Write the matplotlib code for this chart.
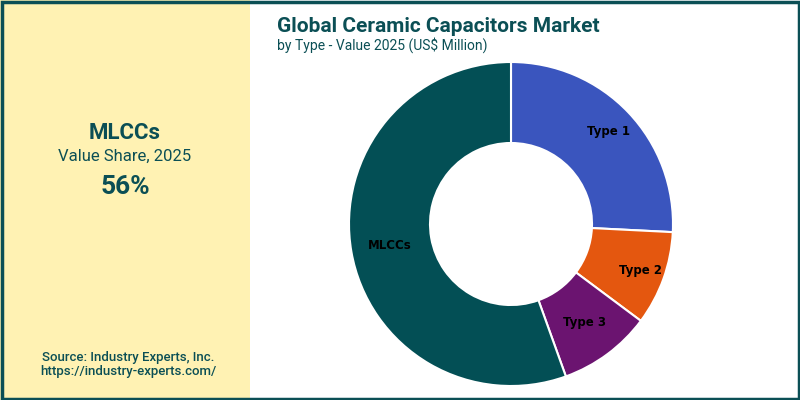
import matplotlib
matplotlib.use("Agg")
import matplotlib.pyplot as plt
import numpy as np
from matplotlib.patches import Rectangle

categories = ["Type 1", "Type 2", "Type 3", "MLCCs"]
values = [25.8, 9.4, 9.3, 55.5]
colors = ["#3A55BE", "#E4570F", "#6B1470", "#034F55"]
label_dist = [0.83, 0.85, 0.76, 0.76]

teal = "#0B4F55"
plt.rcParams['font.family'] = ['Roboto', 'DejaVu Sans']

fig = plt.figure(figsize=(8, 4), dpi=100)
fig.patch.set_facecolor("white")

# left panel
fig.patches.append(Rectangle((0, 0), 250/800, 1, transform=fig.transFigure,
                             facecolor="#FFF2B3", edgecolor="none", zorder=0))
# border
fig.patches.append(Rectangle((1.5/800, 1.5/400), 797/800, 397/400, transform=fig.transFigure,
                             facecolor="none", edgecolor="#0B4F55", linewidth=2.5, zorder=10))

fig.text(125/800, 1 - 133/400, "MLCCs", ha="center", va="center", fontsize=16,
         fontweight="bold", color=teal)
fig.text(125/800, 1 - 156/400, "Value Share, 2025", ha="center", va="center", fontsize=12,
         color=teal)
fig.text(125/800, 1 - 187/400, "56%", ha="center", va="center", fontsize=19,
         fontweight="bold", color=teal)
fig.text(128/800, 1 - 357/400, "Source: Industry Experts, Inc.", ha="center", va="center",
         fontsize=9.5, fontweight="medium", color=teal)
fig.text(128/800, 1 - 372/400, "https://industry-experts.com/", ha="center", va="center",
         fontsize=9.5, fontweight="medium", color=teal)

fig.text(277/800, 1 - 26/400, "Global Ceramic Capacitors Market", ha="left", va="center",
         fontsize=15, fontweight="bold", color=teal)
fig.text(277/800, 1 - 45/400, "by Type - Value 2025 (US$ Million)", ha="left", va="center",
         fontsize=10, color=teal)

ax = fig.add_axes([(511-162)/800, (400-224-162)/400, 324/800, 324/400])
wedges, _ = ax.pie(values, colors=colors, startangle=90, counterclock=False,
                   wedgeprops=dict(width=0.5, edgecolor="white", linewidth=1.5))
for w, lab, d in zip(wedges, categories, label_dist):
    ang = np.deg2rad((w.theta1 + w.theta2) / 2)
    ax.text(d * np.cos(ang), d * np.sin(ang), lab, ha="center", va="center",
            fontsize=8.5, fontweight="bold", color="black", family=["DejaVu Sans"])
ax.set_xlim(-1, 1)
ax.set_ylim(-1, 1)
ax.set_aspect("equal")

fig.savefig("out.png", dpi=100)
